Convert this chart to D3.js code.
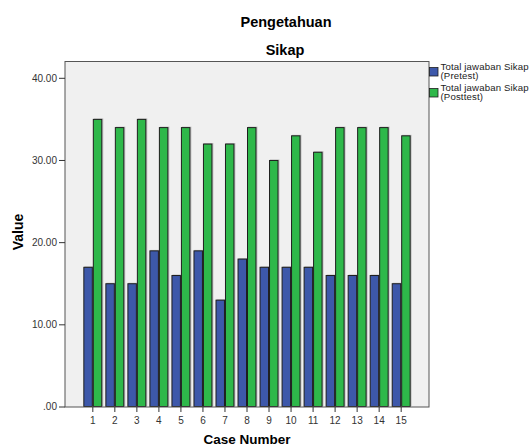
<!DOCTYPE html>
<html>
<head>
<meta charset="utf-8">
<script src="https://cdn.jsdelivr.net/npm/d3@7"></script>
<style>
  body { margin: 0; background: #fff; }
  text { font-family: "Liberation Sans", Arial, sans-serif; }
</style>
</head>
<body>
<svg id="chart" width="529" height="447"></svg>
<script>
const cases = [1, 2, 3, 4, 5, 6, 7, 8, 9, 10, 11, 12, 13, 14, 15];
const pretest = [17, 15, 15, 19, 16, 19, 13, 18, 17, 17, 17, 16, 16, 16, 15];
const posttest = [35, 34, 35, 34, 34, 32, 32, 34, 30, 33, 31, 34, 34, 34, 33];
const yTicks = [0, 10, 20, 30, 40];
const seriesNames = ["pre", "post"];
const legendLines = [["Total jawaban Sikap", "(Pretest)"], ["Total jawaban Sikap", "(Posttest)"]];
const colors = { pre: "#3d58aa", post: "#2eb84a" };

let svg = d3.select("#chart");

let frame = { left: 65, right: 429, top: 61.5, bottom: 407 };

let x = d3.scaleBand()
          .domain(cases)
          .range([81.8, 412.2])
          .paddingInner(0.14)
          .paddingOuter(0.07);

let xSub = d3.scaleBand()
             .domain(seriesNames)
             .range([0, x.bandwidth()]);

let y = d3.scaleLinear()
          .domain([0, 40])
          .range([406.5, 77.8]);

// plot background
svg.append("rect")
   .attr("x", frame.left)
   .attr("y", frame.top)
   .attr("width", frame.right - frame.left)
   .attr("height", frame.bottom - frame.top)
   .attr("fill", "#f0f0f0");

let rows = cases.map((c, i) => {
  return { c: c, pre: pretest[i], post: posttest[i] };
});

let group = svg.selectAll("g.case")
               .data(rows)
               .enter()
               .append("g")
               .attr("class", "case")
               .attr("transform", (d) => `translate(${x(d.c)},0)`);

// soft shadow behind bars
group.selectAll("rect.shadow")
     .data((d) => seriesNames.map((k) => ({ key: k, value: d[k] })))
     .enter()
     .append("rect")
     .attr("class", "shadow")
     .attr("x", (d) => xSub(d.key) + 1)
     .attr("y", (d) => y(d.value) - 0.5)
     .attr("width", xSub.bandwidth())
     .attr("height", (d) => y(0) - y(d.value))
     .attr("fill", "#a0a0a0")
     .attr("opacity", 0.6);

group.selectAll("rect.bar")
     .data((d) => seriesNames.map((k) => ({ key: k, value: d[k] })))
     .enter()
     .append("rect")
     .attr("class", "bar")
     .attr("x", (d) => xSub(d.key) + 0.5)
     .attr("y", (d) => y(d.value) + 0.5)
     .attr("width", xSub.bandwidth() - 1)
     .attr("height", (d) => y(0) - y(d.value) - 0.5)
     .attr("fill", (d) => colors[d.key])
     .attr("stroke", "#1e1e1e")
     .attr("stroke-width", 1);

// frame
svg.append("rect")
   .attr("x", frame.left)
   .attr("y", frame.top)
   .attr("width", frame.right - frame.left)
   .attr("height", frame.bottom - frame.top)
   .attr("fill", "none")
   .attr("stroke", "#555")
   .attr("stroke-width", 1);

// y axis
let yAxis = d3.axisLeft(y)
              .tickValues(yTicks)
              .tickSize(6)
              .tickPadding(2)
              .tickFormat((d) => d === 0 ? ".00" : d3.format(".2f")(d));

let yg = svg.append("g")
            .attr("transform", `translate(${frame.left},0)`)
            .call(yAxis);
yg.select(".domain").remove();
yg.selectAll("line").attr("stroke", "#333");
yg.selectAll("text")
  .attr("font-size", "10px")
  .attr("fill", "#333");

// x axis
let xAxis = d3.axisBottom(x)
              .tickSize(5)
              .tickPadding(5);

let xg = svg.append("g")
            .attr("transform", `translate(0,${frame.bottom})`)
            .call(xAxis);
xg.select(".domain").remove();
xg.selectAll("line").attr("stroke", "#333");
xg.selectAll("text")
  .attr("font-size", "10px")
  .attr("fill", "#333");

// titles
svg.append("text")
   .attr("x", 286)
   .attr("y", 27)
   .attr("text-anchor", "middle")
   .attr("font-size", "14.5px")
   .attr("font-weight", "bold")
   .text("Pengetahuan");

svg.append("text")
   .attr("x", 285)
   .attr("y", 55)
   .attr("text-anchor", "middle")
   .attr("font-size", "14.5px")
   .attr("font-weight", "bold")
   .text("Sikap");

svg.append("text")
   .attr("transform", "translate(23,232) rotate(-90)")
   .attr("text-anchor", "middle")
   .attr("font-size", "14px")
   .attr("font-weight", "bold")
   .text("Value");

svg.append("text")
   .attr("x", 247)
   .attr("y", 444)
   .attr("text-anchor", "middle")
   .attr("font-size", "13.5px")
   .attr("font-weight", "bold")
   .text("Case Number");

// legend
let legend = svg.selectAll("g.legend")
                .data(seriesNames)
                .enter()
                .append("g")
                .attr("class", "legend")
                .attr("transform", (d, i) => `translate(429.5,${67.5 + i * 21})`);

legend.append("rect")
      .attr("width", 8.5)
      .attr("height", 8.5)
      .attr("fill", (d) => colors[d])
      .attr("stroke", "#1e1e1e")
      .attr("stroke-width", 0.8);

legend.each(function (d, i) {
  let t = d3.select(this).append("text")
            .attr("x", 11)
            .attr("y", 2.5)
            .attr("font-size", "9.6px")
            .attr("letter-spacing", "0.15px")
            .attr("fill", "#222");
  legendLines[i].forEach((line, j) => {
    t.append("tspan")
     .attr("x", 11)
     .attr("dy", j === 0 ? 0 : 8.6)
     .text(line);
  });
});
</script>
</body>
</html>
